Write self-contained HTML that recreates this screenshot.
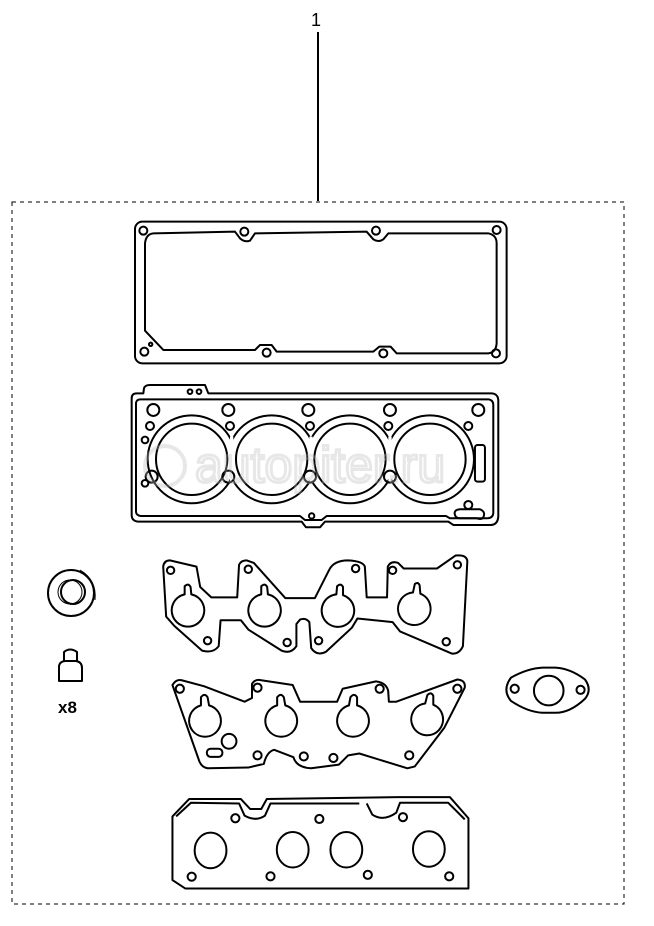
<!DOCTYPE html>
<html><head><meta charset="utf-8"><style>
html,body{margin:0;padding:0;background:#fff;}
svg{display:block;}
</style></head><body>
<svg width="654" height="926" viewBox="0 0 654 926" xmlns="http://www.w3.org/2000/svg">
<rect width="654" height="926" fill="#fff"/>
<text x="316" y="26" font-family="Liberation Sans, sans-serif" font-size="18" text-anchor="middle" fill="#000">1</text>
<line x1="318" y1="32" x2="318" y2="201" stroke="#000" stroke-width="2"/>
<rect x="12" y="202" width="612" height="702" fill="none" stroke="#000" stroke-width="1" stroke-dasharray="4,4"/>

<g fill="none" stroke="#000" stroke-width="2" stroke-linejoin="round">
<g transform="translate(120,210) scale(0.3333)">
 <rect x="45" y="35" width="1115" height="425" rx="22" vector-effect="non-scaling-stroke"/>
 <path vector-effect="non-scaling-stroke" d="M75,100 Q78,72 100,70 L345,65 L360,85 Q375,98 390,92 L405,70 L740,65 L760,88 Q775,98 790,88 L805,70 L1105,70 Q1130,75 1130,100 L1130,400 Q1128,428 1105,430 L830,430 L812,410 L778,410 L760,425 L470,425 L455,405 L420,405 L405,420 L130,420 L75,362 Z"/>
 <circle cx="70" cy="62" r="12" vector-effect="non-scaling-stroke"/><circle cx="373" cy="65" r="12" vector-effect="non-scaling-stroke"/><circle cx="768" cy="62" r="12" vector-effect="non-scaling-stroke"/><circle cx="1130" cy="60" r="12" vector-effect="non-scaling-stroke"/>
 <circle cx="73" cy="425" r="12" vector-effect="non-scaling-stroke"/><circle cx="440" cy="428" r="12" vector-effect="non-scaling-stroke"/><circle cx="790" cy="430" r="12" vector-effect="non-scaling-stroke"/><circle cx="1128" cy="430" r="12" vector-effect="non-scaling-stroke"/><circle cx="92" cy="403" r="5" vector-effect="non-scaling-stroke"/>
 <path vector-effect="non-scaling-stroke" d="M35,565 Q35,550 50,550 L70,550 L72,535 Q75,525 90,525 L255,525 L265,550 L1115,550 Q1135,552 1135,572 L1135,920 Q1133,945 1112,945 L1000,945 L985,935 L615,935 L600,952 L558,952 L545,935 L55,935 Q35,933 35,915 Z"/>
 <path vector-effect="non-scaling-stroke" d="M48,578 Q50,568 62,568 L1105,568 Q1120,570 1120,585 L1120,910 Q1118,925 1102,925 L990,925 L978,918 L620,918 L605,930 L555,930 L540,918 L62,918 Q48,916 48,905 Z"/>
 <circle cx="215" cy="748" r="132" vector-effect="non-scaling-stroke"/><circle cx="455" cy="748" r="132" vector-effect="non-scaling-stroke"/><circle cx="690" cy="748" r="132" vector-effect="non-scaling-stroke"/><circle cx="930" cy="748" r="132" vector-effect="non-scaling-stroke"/>
 <g fill="#fff" stroke="none">
 <circle cx="215" cy="748" r="128"/><circle cx="455" cy="748" r="128"/><circle cx="690" cy="748" r="128"/><circle cx="930" cy="748" r="128"/>
 <rect x="330" y="680" width="10" height="140"/><rect x="568" y="680" width="10" height="140"/><rect x="805" y="680" width="10" height="140"/>
 </g>
 <circle cx="215" cy="748" r="107" vector-effect="non-scaling-stroke"/><circle cx="455" cy="748" r="107" vector-effect="non-scaling-stroke"/><circle cx="690" cy="748" r="107" vector-effect="non-scaling-stroke"/><circle cx="930" cy="748" r="107" vector-effect="non-scaling-stroke"/>
 <circle cx="100" cy="600" r="18" vector-effect="non-scaling-stroke"/><circle cx="325" cy="600" r="18" vector-effect="non-scaling-stroke"/><circle cx="565" cy="600" r="18" vector-effect="non-scaling-stroke"/><circle cx="810" cy="600" r="18" vector-effect="non-scaling-stroke"/><circle cx="1075" cy="600" r="18" vector-effect="non-scaling-stroke"/>
 <circle cx="90" cy="648" r="12" vector-effect="non-scaling-stroke"/><circle cx="330" cy="648" r="12" vector-effect="non-scaling-stroke"/><circle cx="570" cy="648" r="12" vector-effect="non-scaling-stroke"/><circle cx="805" cy="648" r="12" vector-effect="non-scaling-stroke"/><circle cx="1045" cy="648" r="12" vector-effect="non-scaling-stroke"/>
 <circle cx="75" cy="690" r="10" vector-effect="non-scaling-stroke"/><circle cx="75" cy="820" r="10" vector-effect="non-scaling-stroke"/>
 <circle cx="95" cy="800" r="18" vector-effect="non-scaling-stroke"/><circle cx="325" cy="800" r="18" vector-effect="non-scaling-stroke"/><circle cx="570" cy="800" r="18" vector-effect="non-scaling-stroke"/><circle cx="810" cy="800" r="18" vector-effect="non-scaling-stroke"/>
 <circle cx="1045" cy="885" r="12" vector-effect="non-scaling-stroke"/><circle cx="575" cy="918" r="8" vector-effect="non-scaling-stroke"/>
 <circle cx="210" cy="545" r="7" vector-effect="non-scaling-stroke"/><circle cx="237" cy="545" r="7" vector-effect="non-scaling-stroke"/>
 <rect x="1065" y="705" width="30" height="110" rx="8" vector-effect="non-scaling-stroke"/>
 <path vector-effect="non-scaling-stroke" d="M1005,915 Q1000,900 1020,898 L1080,898 Q1098,905 1090,922 Q1085,930 1070,925 L1020,925 Q1008,925 1005,915 Z"/>
</g>

<g transform="translate(30,550) scale(0.37)">
 <path vector-effect="non-scaling-stroke" d="M360,45 Q362,28 378,28 L450,45 L460,100 L490,128 L560,128 L565,40 Q570,28 585,28 L605,35 L690,130 L770,130 L808,55 Q820,28 860,28 Q900,30 905,45 L910,128 L965,128 L967,45 Q975,28 995,35 L1010,50 L1100,50 L1150,15 Q1180,12 1182,30 L1170,260 Q1160,282 1140,280 L1000,220 L980,195 L885,185 L870,210 L800,275 Q775,288 760,265 L755,195 Q745,182 730,188 L720,200 L720,260 Q705,282 680,272 L590,215 L570,190 L515,190 L510,260 Q495,280 465,272 L390,205 L368,180 Z"/>
 <circle cx="380" cy="55" r="10" vector-effect="non-scaling-stroke"/><circle cx="590" cy="52" r="10" vector-effect="non-scaling-stroke"/><circle cx="880" cy="50" r="10" vector-effect="non-scaling-stroke"/><circle cx="980" cy="55" r="10" vector-effect="non-scaling-stroke"/><circle cx="1155" cy="40" r="10" vector-effect="non-scaling-stroke"/>
 <circle cx="480" cy="245" r="10" vector-effect="non-scaling-stroke"/><circle cx="695" cy="250" r="10" vector-effect="non-scaling-stroke"/><circle cx="780" cy="245" r="10" vector-effect="non-scaling-stroke"/><circle cx="1125" cy="248" r="10" vector-effect="non-scaling-stroke"/>
 <path vector-effect="non-scaling-stroke" d="M418,120 L418,98 Q428,88 434,100 L436,120 A44,44 0 1 1 418,120 Z"/>
 <path vector-effect="non-scaling-stroke" d="M625,120 L625,98 Q635,88 641,100 L643,120 A44,44 0 1 1 625,120 Z"/>
 <path vector-effect="non-scaling-stroke" d="M828,120 L830,98 Q840,88 846,100 L846,122 A44,44 0 1 1 828,120 Z"/>
 <path vector-effect="non-scaling-stroke" d="M1035,115 L1040,92 Q1048,85 1053,95 L1055,118 A44,44 0 1 1 1035,115 Z"/>

 <path vector-effect="non-scaling-stroke" d="M385,365 Q395,348 410,352 L470,368 L580,410 L600,400 L600,362 Q608,348 625,352 L710,365 L730,410 L830,410 L845,375 L935,355 Q962,358 968,380 L970,410 L990,410 L1155,350 Q1178,352 1175,372 L1120,480 L1040,585 L1020,590 L890,550 L860,555 L835,580 L760,590 Q720,588 712,560 L660,540 Q640,545 632,578 L590,588 L480,590 Q465,588 458,572 Z"/>
 <circle cx="405" cy="375" r="11" vector-effect="non-scaling-stroke"/><circle cx="615" cy="372" r="11" vector-effect="non-scaling-stroke"/><circle cx="945" cy="375" r="11" vector-effect="non-scaling-stroke"/><circle cx="1155" cy="375" r="11" vector-effect="non-scaling-stroke"/>
 <circle cx="615" cy="555" r="11" vector-effect="non-scaling-stroke"/><circle cx="740" cy="558" r="11" vector-effect="non-scaling-stroke"/><circle cx="820" cy="562" r="11" vector-effect="non-scaling-stroke"/><circle cx="1025" cy="555" r="11" vector-effect="non-scaling-stroke"/>
 <circle cx="538" cy="517" r="20" vector-effect="non-scaling-stroke"/>
 <rect x="478" y="537" width="42" height="22" rx="10" vector-effect="non-scaling-stroke"/>
 <path vector-effect="non-scaling-stroke" d="M462,420 L462,398 Q472,385 480,398 L484,420 A43,43 0 1 1 462,420 Z"/>
 <path vector-effect="non-scaling-stroke" d="M668,420 L668,398 Q678,385 686,398 L690,420 A43,43 0 1 1 668,420 Z"/>
 <path vector-effect="non-scaling-stroke" d="M862,420 L866,398 Q876,385 884,398 L884,420 A43,43 0 1 1 862,420 Z"/>
 <path vector-effect="non-scaling-stroke" d="M1068,415 L1074,392 Q1084,382 1090,394 L1090,418 A43,43 0 1 1 1068,415 Z"/>

 <path vector-effect="non-scaling-stroke" d="M1300,345 Q1345,320 1385,318 L1420,318 Q1460,320 1500,350 Q1520,378 1500,402 Q1460,440 1420,440 L1385,440 Q1345,438 1300,408 Q1275,378 1300,345 Z"/>
 <circle cx="1402" cy="380" r="40" vector-effect="non-scaling-stroke"/>
 <circle cx="1310" cy="375" r="11" vector-effect="non-scaling-stroke"/><circle cx="1488" cy="378" r="11" vector-effect="non-scaling-stroke"/>

 <path vector-effect="non-scaling-stroke" d="M385,720 L430,673 L570,673 L595,700 L625,700 L640,673 L995,668 L1135,668 L1185,725 L1185,915 L420,915 L385,892 Z"/>
 <path vector-effect="non-scaling-stroke" d="M395,720 L435,683 L565,685 L580,718 Q610,735 635,718 L650,685 L890,685 M910,685 L925,715 Q955,735 990,710 L1000,683 L1130,683 L1175,728"/>
 <ellipse cx="488" cy="812" rx="43" ry="48" vector-effect="non-scaling-stroke"/><ellipse cx="710" cy="810" rx="43" ry="48" vector-effect="non-scaling-stroke"/><ellipse cx="855" cy="810" rx="43" ry="48" vector-effect="non-scaling-stroke"/><ellipse cx="1078" cy="808" rx="43" ry="48" vector-effect="non-scaling-stroke"/>
 <circle cx="555" cy="725" r="11" vector-effect="non-scaling-stroke"/><circle cx="782" cy="727" r="11" vector-effect="non-scaling-stroke"/><circle cx="1008" cy="722" r="11" vector-effect="non-scaling-stroke"/>
 <circle cx="437" cy="883" r="11" vector-effect="non-scaling-stroke"/><circle cx="650" cy="882" r="11" vector-effect="non-scaling-stroke"/><circle cx="913" cy="878" r="11" vector-effect="non-scaling-stroke"/><circle cx="1133" cy="882" r="11" vector-effect="non-scaling-stroke"/>
</g>

<circle cx="71" cy="593" r="23"/>
<circle cx="73" cy="592" r="12"/>
<circle cx="70" cy="592" r="12" stroke-width="1"/>
<path d="M80,570 Q97,580 95,600" stroke-width="1"/>
<path d="M64,661 L64,652 Q70,647 77,652 L77,661"/>
<path d="M59,666 Q60,661 66,661 L76,661 Q82,662 82,668 L82,681 L59,681 Z"/>
</g>
<text x="58" y="713" font-family="Liberation Sans, sans-serif" font-size="17" font-weight="bold" fill="#000">x8</text>
<g opacity="0.35">
<circle cx="165" cy="466" r="20" fill="none" stroke="#bbb" stroke-width="4"/>
<text x="195" y="482" font-family="Liberation Sans, sans-serif" font-size="50" fill="none" stroke="#bbb" stroke-width="3">autopiter.ru</text>
</g>
</svg>
</body></html>
